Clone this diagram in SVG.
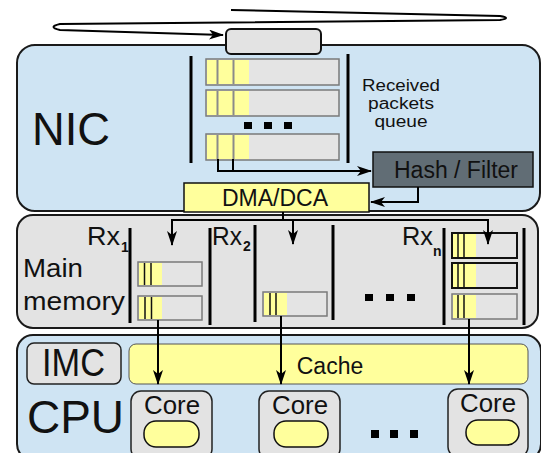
<svg xmlns="http://www.w3.org/2000/svg" width="541" height="453" viewBox="0 0 541 453">
<style>
text{font-family:"Liberation Sans",Arial,sans-serif;fill:#111}
.panel{stroke:#1a1a1a;stroke-width:2}
.blue{fill:#cfe4f3}
.grayp{fill:#e3e3e3}
.vbar{stroke:#000;stroke-width:3;fill:none}
.qrow{fill:#e4e4e4;stroke:#7a7a7a;stroke-width:1.5}
.yel{fill:#ffff9c}
.qdiv{stroke:#8a8a8a;stroke-width:2}
.mdiv{stroke:#111;stroke-width:1.5}
.conn{stroke:#000;stroke-width:2;fill:none}
.dot{fill:#000}
</style>
<defs>
<marker id="ah" viewBox="0 0 15 10" refX="14" refY="5" markerWidth="15" markerHeight="10" markerUnits="userSpaceOnUse" orient="auto">
<path d="M0,0 L15,5 L0,10 L4,5 z" fill="#000"/>
</marker>
</defs>

<!-- panels -->
<g id="nic">
<rect class="panel blue" x="17" y="45" width="523" height="166" rx="18"/>
<text x="32" y="145" font-size="46" textLength="78" lengthAdjust="spacingAndGlyphs">NIC</text>
</g>
<g id="memory">
<rect class="panel grayp" x="17" y="215" width="521" height="113" rx="16"/>
<text x="23" y="277" font-size="25" textLength="60" lengthAdjust="spacingAndGlyphs">Main</text>
<text x="23" y="310" font-size="25" textLength="102" lengthAdjust="spacingAndGlyphs">memory</text>
</g>
<g id="cpu">
<rect class="panel blue" x="17" y="335" width="524" height="125" rx="16"/>
<text x="27" y="433" font-size="47" textLength="97" lengthAdjust="spacingAndGlyphs">CPU</text>
</g>

<!-- top link box -->
<g id="port">
<rect x="226" y="29" width="95" height="25" rx="5" fill="#e3e3e3" stroke="#111" stroke-width="2"/>
</g>

<!-- received packets queue -->
<g id="queue">
<line class="vbar" x1="191" y1="56" x2="191" y2="163"/>
<line class="vbar" x1="348" y1="54" x2="348" y2="163"/>
<rect class="qrow" x="206" y="59" width="133" height="26"/>
<rect class="yel" x="207" y="60" width="42" height="24"/>
<line class="qdiv" x1="217.5" y1="60" x2="217.5" y2="84"/>
<line class="qdiv" x1="233.5" y1="60" x2="233.5" y2="84"/>
<rect class="qrow" x="206" y="90" width="133" height="26"/>
<rect class="yel" x="207" y="91" width="42" height="24"/>
<line class="qdiv" x1="217.5" y1="91" x2="217.5" y2="115"/>
<line class="qdiv" x1="233.5" y1="91" x2="233.5" y2="115"/>
<rect class="dot" x="244" y="122" width="8" height="7"/>
<rect class="dot" x="264" y="122" width="8" height="7"/>
<rect class="dot" x="284" y="122" width="8" height="7"/>
<rect class="qrow" x="206" y="134" width="133" height="26"/>
<rect class="yel" x="207" y="135" width="42" height="24"/>
<line class="qdiv" x1="217.5" y1="135" x2="217.5" y2="159"/>
<line class="qdiv" x1="233.5" y1="135" x2="233.5" y2="159"/>
<text x="401" y="91" font-size="16" text-anchor="middle" textLength="78" lengthAdjust="spacingAndGlyphs">Received</text>
<text x="401" y="109" font-size="16" text-anchor="middle" textLength="66" lengthAdjust="spacingAndGlyphs">packets</text>
<text x="401" y="127" font-size="16" text-anchor="middle" textLength="53" lengthAdjust="spacingAndGlyphs">queue</text>
</g>

<g id="hash">
<rect x="373" y="152" width="160" height="35" fill="#616d75" stroke="#111" stroke-width="1.5"/>
<text x="456" y="178" font-size="23" text-anchor="middle">Hash / Filter</text>
</g>

<g id="dma">
<rect x="184" y="183" width="185" height="29" fill="#ffff9c" stroke="#111" stroke-width="1.5"/>
<text x="275" y="206" font-size="23" text-anchor="middle">DMA/DCA</text>
</g>

<!-- Rx buffers -->
<g id="rx1">
<line class="vbar" x1="130" y1="228" x2="130" y2="323"/>
<text x="87" y="245" font-size="25" textLength="33" lengthAdjust="spacingAndGlyphs">Rx</text>
<text x="121" y="252" font-size="14" font-weight="bold">1</text>
<rect class="qrow" x="138" y="262" width="64" height="24"/>
<rect class="yel" x="139" y="263" width="23" height="22"/>
<line class="mdiv" x1="144.5" y1="263" x2="144.5" y2="285"/>
<line class="mdiv" x1="151" y1="263" x2="151" y2="285"/>
<rect class="qrow" x="138" y="296" width="64" height="24"/>
<rect class="yel" x="139" y="297" width="23" height="22"/>
<line class="mdiv" x1="145" y1="297" x2="145" y2="319"/>
<line class="mdiv" x1="151.5" y1="297" x2="151.5" y2="319"/>
</g>
<g id="rx2">
<line class="vbar" x1="210" y1="228" x2="210" y2="325"/>
<line class="vbar" x1="255" y1="225" x2="255" y2="322"/>
<text x="212" y="245" font-size="25" textLength="30" lengthAdjust="spacingAndGlyphs">Rx</text>
<text x="243" y="251" font-size="14" font-weight="bold">2</text>
<rect class="qrow" x="263" y="292" width="64" height="24"/>
<rect class="yel" x="264" y="293" width="23" height="22"/>
<line class="mdiv" x1="270" y1="293" x2="270" y2="315"/>
<line class="mdiv" x1="276" y1="293" x2="276" y2="315"/>
</g>
<g id="rxdots">
<line class="vbar" x1="333" y1="225" x2="333" y2="320"/>
<rect class="dot" x="365" y="294" width="8" height="7"/>
<rect class="dot" x="386" y="294" width="8" height="7"/>
<rect class="dot" x="407" y="294" width="8" height="7"/>
</g>
<g id="rxn">
<line class="vbar" x1="444" y1="228" x2="444" y2="325"/>
<line class="vbar" x1="524" y1="228" x2="524" y2="325"/>
<text x="402" y="245" font-size="25" textLength="31" lengthAdjust="spacingAndGlyphs">Rx</text>
<text x="433" y="256" font-size="14" font-weight="bold">n</text>
<rect x="452" y="233" width="65" height="25" fill="#e4e4e4" stroke="#111" stroke-width="2"/>
<rect class="yel" x="453" y="234" width="23" height="23"/>
<line class="mdiv" x1="458" y1="234" x2="458" y2="257"/>
<line class="mdiv" x1="464" y1="234" x2="464" y2="257"/>
<rect x="452" y="263" width="65" height="25" fill="#e4e4e4" stroke="#111" stroke-width="2"/>
<rect class="yel" x="453" y="264" width="23" height="23"/>
<line class="mdiv" x1="458" y1="264" x2="458" y2="287"/>
<line class="mdiv" x1="464" y1="264" x2="464" y2="287"/>
<rect class="qrow" x="452" y="294" width="65" height="25"/>
<rect class="yel" x="453" y="295" width="23" height="23"/>
<line class="mdiv" x1="458" y1="295" x2="458" y2="318"/>
<line class="mdiv" x1="464" y1="295" x2="464" y2="318"/>
</g>

<!-- CPU internals -->
<g id="imc">
<rect x="27" y="343" width="94" height="41" rx="7" fill="#e3e3e3" stroke="#222" stroke-width="1.5"/>
<text x="42" y="376" font-size="38" textLength="63" lengthAdjust="spacingAndGlyphs">IMC</text>
</g>
<g id="cache">
<rect x="129" y="344" width="399" height="40" rx="7" fill="#ffff9c" stroke="#555" stroke-width="1"/>
<text x="330" y="374" font-size="23" text-anchor="middle">Cache</text>
</g>
<g id="core1">
<rect x="131" y="391" width="81" height="68" rx="10" fill="#e3e3e3" stroke="#222" stroke-width="1.5"/>
<text x="172" y="414" font-size="25" text-anchor="middle" textLength="56" lengthAdjust="spacingAndGlyphs">Core</text>
<rect x="144" y="421" width="55" height="26" rx="12" fill="#ffff9c" stroke="#111" stroke-width="1.5"/>
</g>
<g id="core2">
<rect x="259" y="391" width="81" height="68" rx="10" fill="#e3e3e3" stroke="#222" stroke-width="1.5"/>
<text x="300" y="414" font-size="25" text-anchor="middle" textLength="56" lengthAdjust="spacingAndGlyphs">Core</text>
<rect x="274" y="421" width="54" height="26" rx="12" fill="#ffff9c" stroke="#111" stroke-width="1.5"/>
</g>
<g id="cpudots">
<rect class="dot" x="371" y="430" width="8" height="8"/>
<rect class="dot" x="390" y="430" width="8" height="8"/>
<rect class="dot" x="410" y="430" width="8" height="8"/>
</g>
<g id="core3">
<rect x="448" y="389" width="80" height="68" rx="10" fill="#e3e3e3" stroke="#222" stroke-width="1.5"/>
<text x="488" y="412" font-size="25" text-anchor="middle" textLength="56" lengthAdjust="spacingAndGlyphs">Core</text>
<rect x="466" y="420" width="53" height="25" rx="12" fill="#ffff9c" stroke="#111" stroke-width="1.5"/>
</g>

<!-- connectors -->
<g id="connectors">
<path class="conn" d="M231,10 L500,16 Q512,18 500,20 L60,24 Q47,27 60,30 L223,35" marker-end="url(#ah)"/>
<path class="conn" d="M218,159 V171 M233,159 V171"/>
<path class="conn" d="M217,171 H371" marker-end="url(#ah)"/>
<path class="conn" d="M418,187 V202 H371" marker-end="url(#ah)"/>
<path class="conn" d="M283,212 V220"/>
<path class="conn" d="M172,220 H488"/>
<path class="conn" d="M172,219 V245" marker-end="url(#ah)"/>
<path class="conn" d="M293,219 V244" marker-end="url(#ah)"/>
<path class="conn" d="M488,219 V244" marker-end="url(#ah)"/>
<path class="conn" d="M158,320 V384" marker-end="url(#ah)"/>
<path class="conn" d="M281,316 V384" marker-end="url(#ah)"/>
<path class="conn" d="M469,319 V384" marker-end="url(#ah)"/>
</g>
</svg>
